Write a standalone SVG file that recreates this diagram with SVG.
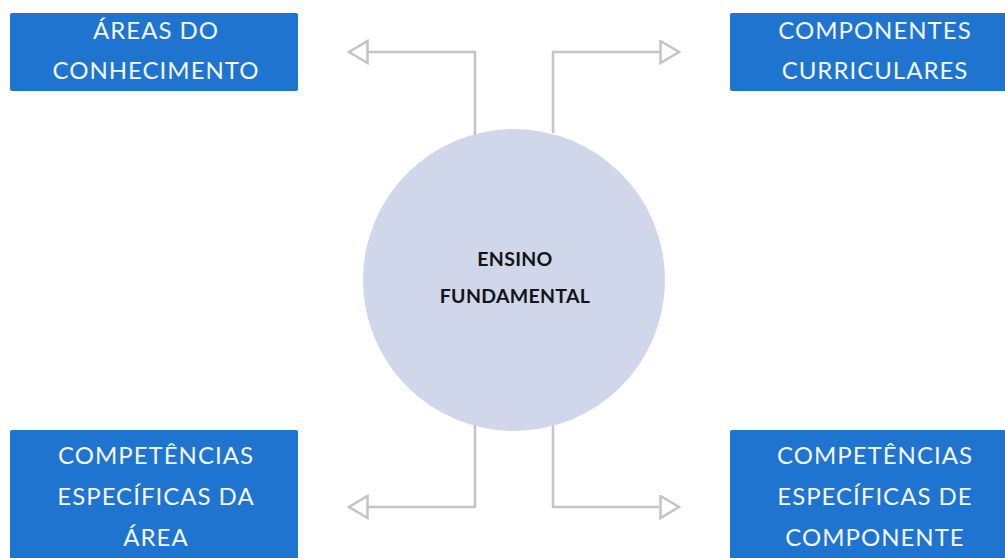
<svg xmlns="http://www.w3.org/2000/svg" width="1005" height="558" viewBox="0 0 1005 558">
<defs>
<style>
.box{fill:#1f74cf}
.bt{font-family:Lato,"Open Sans",sans-serif;font-size:24px;fill:#f4f8fc;text-anchor:middle;letter-spacing:1px}
.ct{font-family:Lato,"Open Sans",sans-serif;font-size:19.5px;font-weight:bold;fill:#141414;text-anchor:middle;letter-spacing:0.3px}
.ln{fill:none;stroke:#c4c4c4;stroke-width:2.5}
</style>
<marker id="ah" markerWidth="24" markerHeight="26" refX="20.5" refY="12.5" orient="auto" markerUnits="userSpaceOnUse" viewBox="0 0 24 26">
<path d="M2,1.5 L20.5,12.5 L2,23.5 Z" fill="#ffffff" stroke="#c4c4c4" stroke-width="2.5" stroke-linejoin="miter"/>
</marker>
</defs>
<rect width="1005" height="558" fill="#ffffff"/>
<g id="connectors">
<polyline class="ln" points="475,135 475,52 349,52" marker-end="url(#ah)"/>
<polyline class="ln" points="553,133 553,52 679,52" marker-end="url(#ah)"/>
<polyline class="ln" points="475,425 475,507 349,507" marker-end="url(#ah)"/>
<polyline class="ln" points="553,425 553,507 679,507" marker-end="url(#ah)"/>
</g>
<g id="center">
<circle cx="514" cy="280" r="151" fill="#d0d7ea"/>
<text class="ct" x="515" y="266">ENSINO</text>
<text class="ct" x="515" y="303">FUNDAMENTAL</text>
</g>
<g id="areas">
<rect class="box" x="10" y="13" width="288" height="78" rx="2"/>
<text class="bt" x="156" y="39">ÁREAS DO</text>
<text class="bt" x="156" y="79">CONHECIMENTO</text>
</g>
<g id="componentes">
<rect class="box" x="730" y="13" width="290" height="78" rx="2"/>
<text class="bt" x="875" y="39">COMPONENTES</text>
<text class="bt" x="875" y="79">CURRICULARES</text>
</g>
<g id="comp-area">
<rect class="box" x="10" y="430" width="288" height="140" rx="2"/>
<text class="bt" x="156" y="464">COMPETÊNCIAS</text>
<text class="bt" x="156" y="505">ESPECÍFICAS DA</text>
<text class="bt" x="156" y="546">ÁREA</text>
</g>
<g id="comp-componente">
<rect class="box" x="730" y="430" width="290" height="140" rx="2"/>
<text class="bt" x="875" y="464">COMPETÊNCIAS</text>
<text class="bt" x="875" y="505">ESPECÍFICAS DE</text>
<text class="bt" x="875" y="546">COMPONENTE</text>
</g>
</svg>
